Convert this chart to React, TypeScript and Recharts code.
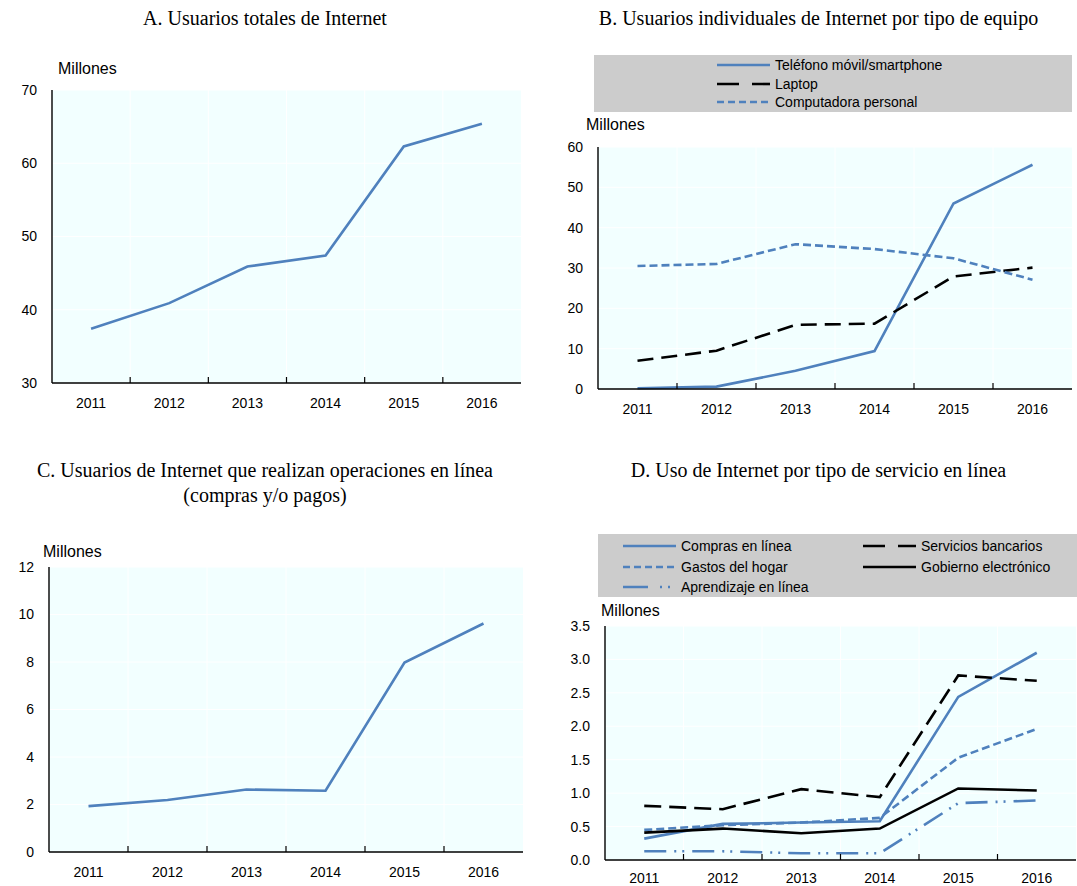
import React from "react"
import { LineChart, Line, XAxis, YAxis, CartesianGrid } from "recharts"

// --- data (millones) ---
const years = ["2011", "2012", "2013", "2014", "2015", "2016"]

const totalUsers = [37.4, 40.9, 45.9, 47.4, 62.3, 65.4]

const smartphone = [0.2, 0.6, 4.5, 9.4, 46.0, 55.6]
const laptop = [7.0, 9.5, 15.9, 16.2, 27.9, 30.1]
const personalComputer = [30.5, 31.0, 35.9, 34.7, 32.4, 27.1]

const onlineOperations = [1.93, 2.19, 2.63, 2.58, 7.98, 9.62]

const shopping = [0.32, 0.54, 0.56, 0.58, 2.44, 3.1]
const banking = [0.81, 0.76, 1.06, 0.94, 2.76, 2.68]
const householdBills = [0.45, 0.52, 0.56, 0.63, 1.53, 1.96]
const eGovernment = [0.41, 0.47, 0.4, 0.47, 1.07, 1.04]
const eLearning = [0.13, 0.13, 0.1, 0.1, 0.85, 0.89]

const ticksA = [30, 40, 50, 60, 70]
const ticksB = [0, 10, 20, 30, 40, 50, 60]
const ticksC = [0, 2, 4, 6, 8, 10, 12]
const ticksD = [0, 0.5, 1, 1.5, 2, 2.5, 3, 3.5]

const BLUE = "#4f81bd"
const BLACK = "#000000"
const PLOT_BG = "#f2ffff"
const LEGEND_BG = "#cccccc"
const FONT = "'Liberation Sans Narrow', 'Liberation Sans', Arial, sans-serif"
const SANS = "'Liberation Sans', Arial, sans-serif"
const SERIF = "'Liberation Serif', 'Times New Roman', serif"

type Series = {
  key: string
  name: string
  color: string
  dash?: string
  legendDash?: string
}

const tableA = years.map((year, i) => ({ year, total: totalUsers[i] }))
const tableB = years.map((year, i) => ({
  year,
  smartphone: smartphone[i],
  laptop: laptop[i],
  pc: personalComputer[i],
}))
const tableC = years.map((year, i) => ({ year, ops: onlineOperations[i] }))
const tableD = years.map((year, i) => ({
  year,
  shopping: shopping[i],
  banking: banking[i],
  bills: householdBills[i],
  gov: eGovernment[i],
  learning: eLearning[i],
}))

const seriesA: Series[] = [{ key: "total", name: "Usuarios totales", color: BLUE }]
const seriesB: Series[] = [
  { key: "smartphone", name: "Teléfono móvil/smartphone", color: BLUE },
  { key: "laptop", name: "Laptop", color: BLACK, dash: "16 8", legendDash: "22 13" },
  { key: "pc", name: "Computadora personal", color: BLUE, dash: "8 4", legendDash: "7 4" },
]
const seriesC: Series[] = [{ key: "ops", name: "Operaciones en línea", color: BLUE }]
const seriesD: Series[] = [
  { key: "shopping", name: "Compras en línea", color: BLUE },
  { key: "banking", name: "Servicios bancarios", color: BLACK, dash: "17 8", legendDash: "22 13" },
  { key: "bills", name: "Gastos del hogar", color: BLUE, dash: "8 4", legendDash: "7 4" },
  { key: "gov", name: "Gobierno electrónico", color: BLACK },
  { key: "learning", name: "Aprendizaje en línea", color: BLUE, dash: "22 8 2 6 2 8", legendDash: "25 12 2 6 2 8" },
]

interface PanelProps {
  x: number
  y: number
  w: number
  h: number
  data: any[]
  domain: [number, number]
  ticks: number[]
  decimals: number
  series: Series[]
  labelGap?: number
}

// plot rectangle is (x, y, w, h) on the page
function Panel({ x, y, w, h, data, domain, ticks, decimals, series, labelGap = 9 }: PanelProps) {
  const ml = 5
  const yw = 45
  const mt = 10
  const mr = 10
  const xh = 35
  const mb = 5
  const n = years.length
  const band = w / n
  const half = band / 2
  const chartW = w + ml + yw + mr
  const chartH = h + mt + xh + mb

  return (
    <div style={{ position: "absolute", left: x - ml - yw, top: y - mt, width: chartW, height: chartH }}>
      <LineChart width={chartW} height={chartH} data={data} margin={{ top: mt, right: mr, left: ml, bottom: mb }}>
        <CartesianGrid
          fill={PLOT_BG}
          stroke="#ffffff"
          strokeWidth={1}
          verticalCoordinatesGenerator={({ offset }: any) =>
            [1, 2, 3, 4, 5].map((k) => offset.left + (offset.width * k) / n)
          }
        />
        <XAxis
          xAxisId="top"
          type="number"
          domain={[0, n]}
          allowDataOverflow
          orientation="top"
          height={0}
          tick={false}
          tickLine={false}
          axisLine={{ stroke: BLACK, strokeWidth: 1.4 }}
        />
        <YAxis
          yAxisId="right"
          type="number"
          domain={[0, 1]}
          orientation="right"
          width={0}
          tick={false}
          tickLine={false}
          axisLine={{ stroke: BLACK, strokeWidth: 1.4 }}
        />
        <XAxis
          dataKey="year"
          height={xh}
          padding={{ left: half, right: half }}
          tickLine={false}
          tickSize={6}
          tickMargin={labelGap}
          axisLine={{ stroke: BLACK, strokeWidth: 1.6 }}
          tick={{ fill: BLACK, fontSize: 14, fontFamily: FONT }}
          interval={0}
        />
        <YAxis
          type="number"
          domain={domain}
          ticks={ticks}
          width={yw}
          tickLine={false}
          tickSize={6}
          tickMargin={9}
          axisLine={{ stroke: BLACK, strokeWidth: 1.4 }}
          tick={{ fill: BLACK, fontSize: 14, fontFamily: FONT }}
          tickFormatter={(v: number) => v.toFixed(decimals)}
          interval={0}
        />
        {series.map((s) => (
          <Line
            key={s.key}
            dataKey={s.key}
            name={s.name}
            type="linear"
            stroke={s.color}
            strokeWidth={2.6}
            strokeDasharray={s.dash}
            dot={false}
            activeDot={false}
            isAnimationActive={false}
          />
        ))}
      </LineChart>
      {/* inward tick marks between the year bands */}
      <svg
        width={chartW}
        height={chartH}
        style={{ position: "absolute", left: 0, top: 0, pointerEvents: "none" }}
      >
        {years.slice(1).map((yr, k) => (
          <line
            key={yr}
            x1={ml + yw + band * (k + 1)}
            y1={mt + h}
            x2={ml + yw + band * (k + 1)}
            y2={mt + h - 6}
            stroke={BLACK}
            strokeWidth={1.2}
          />
        ))}
      </svg>
    </div>
  )
}

function LegendSample({ s }: { s: Series }) {
  return (
    <svg width={53} height={6} style={{ display: "block" }}>
      <line
        x1={0}
        y1={3}
        x2={53}
        y2={3}
        stroke={s.color}
        strokeWidth={2.6}
        strokeDasharray={s.legendDash ?? s.dash}
      />
    </svg>
  )
}

function LegendItem({ s, left, top }: { s: Series; left: number; top: number }) {
  return (
    <div
      style={{
        position: "absolute",
        left,
        top,
        display: "flex",
        alignItems: "center",
        height: 18,
        whiteSpace: "nowrap",
      }}
    >
      <LegendSample s={s} />
      <span style={{ marginLeft: 5, fontFamily: SANS, fontSize: 14, color: BLACK }}>{s.name}</span>
    </div>
  )
}

function Title({ text, left, width, top }: { text: React.ReactNode; left: number; width: number; top: number }) {
  return (
    <div
      style={{
        position: "absolute",
        left,
        width,
        top,
        textAlign: "center",
        fontFamily: SERIF,
        fontSize: 20,
        lineHeight: "25px",
        color: BLACK,
      }}
    >
      {text}
    </div>
  )
}

function Unit({ left, top }: { left: number; top: number }) {
  return (
    <div style={{ position: "absolute", left, top, fontFamily: FONT, fontSize: 16, lineHeight: "18px", color: BLACK }}>
      Millones
    </div>
  )
}

export default function App() {
  return (
    <div style={{ position: "absolute", left: 0, top: 0, width: 1077, height: 886, background: "#fff" }}>
      <Title text="A. Usuarios totales de Internet" left={0} width={530} top={6} />
      <Title text="B. Usuarios individuales de Internet por tipo de equipo" left={560} width={517} top={6} />
      <Title
        text={
          <>
            C. Usuarios de Internet que realizan operaciones en línea
            <br />
            (compras y/o pagos)
          </>
        }
        left={0}
        width={530}
        top={458}
      />
      <Title text="D. Uso de Internet por tipo de servicio en línea" left={560} width={517} top={458} />

      {/* Panel A */}
      <Unit left={58} top={60} />
      <Panel x={52} y={90} w={469} h={293} data={tableA} domain={[30, 70]} ticks={ticksA} decimals={0} series={seriesA} />

      {/* Panel B */}
      <div style={{ position: "absolute", left: 594, top: 55, width: 478, height: 57, background: LEGEND_BG }} />
      {seriesB.map((s, i) => (
        <LegendItem key={s.key} s={s} left={717} top={56 + i * 18.5} />
      ))}
      <Unit left={586} top={116} />
      <Panel x={598} y={147} w={474} h={242} data={tableB} domain={[0, 60]} ticks={ticksB} decimals={0} series={seriesB} />

      {/* Panel C */}
      <Unit left={43} top={543} />
      <Panel x={49} y={567} w={474} h={285} data={tableC} domain={[0, 12]} ticks={ticksC} decimals={0} series={seriesC} />

      {/* Panel D */}
      <div style={{ position: "absolute", left: 598, top: 534, width: 479, height: 63, background: LEGEND_BG }} />
      {seriesD.map((s, i) => (
        <LegendItem
          key={s.key}
          s={s}
          left={i === 1 || i === 3 ? 863 : 623}
          top={537 + (i === 4 ? 2 : Math.floor(i / 2)) * 20.5}
        />
      ))}
      <Unit left={601} top={602} />
      <Panel
        x={605}
        y={626}
        w={471}
        h={234}
        data={tableD}
        domain={[0, 3.5]}
        ticks={ticksD}
        decimals={1}
        series={seriesD}
        labelGap={7}
      />
    </div>
  )
}
